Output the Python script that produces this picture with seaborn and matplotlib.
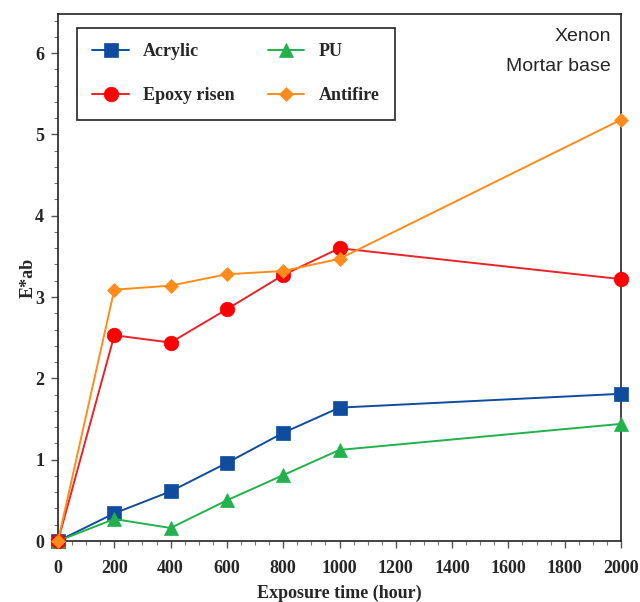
import numpy as np
import pandas as pd
import matplotlib
matplotlib.use("Agg")
import matplotlib.pyplot as plt
import seaborn as sns
from matplotlib.ticker import MultipleLocator

hours = [0, 200, 400, 600, 800, 1000, 2000]
acrylic = [0.0, 0.34, 0.61, 0.96, 1.33, 1.64, 1.81]
pu = [0.0, 0.27, 0.16, 0.50, 0.81, 1.12, 1.44]
epoxy = [0.0, 2.53, 2.44, 2.85, 3.27, 3.60, 3.22]
antifire = [0.0, 3.09, 3.14, 3.28, 3.32, 3.47, 5.18]
series_names = ["Acrylic", "Epoxy risen", "PU", "Antifire"]
x_ticks = [0, 200, 400, 600, 800, 1000, 1200, 1400, 1600, 1800, 2000]
y_ticks = [0, 1, 2, 3, 4, 5, 6]

sns.set_style("ticks")
plt.rcParams['font.family'] = ['Liberation Serif', 'DejaVu Serif']

fig = plt.figure(figsize=(6.4, 6.02), dpi=100)
ax = fig.add_axes([58/640, 61/602, (621-58)/640, (541-14)/602])

styles = {
    "Acrylic": dict(data=acrylic, color="#0F4C9E", marker="s", ms=10),
    "Epoxy risen": dict(data=epoxy, color="#FF0000", marker="o", ms=10.5, lc="#E8232A"),
    "PU": dict(data=pu, color="#22B14C", marker="^", ms=10),
    "Antifire": dict(data=antifire, color="#FF8C1A", marker="D", ms=7),
}
order = ["Acrylic", "PU", "Epoxy risen", "Antifire"]
for name in order:
    s = styles[name]
    df = pd.DataFrame({"x": hours, "y": s["data"]})
    sns.lineplot(data=df, x="x", y="y", ax=ax, color=s.get("lc", s["color"]),
                 marker=s["marker"], markersize=s["ms"], markerfacecolor=s["color"],
                 markeredgecolor=s["color"], markeredgewidth=0.5, linewidth=1.4,
                 label=name, clip_on=False, zorder=3)

ax.set_xlim(0, 2000)
ax.set_ylim(0, 6.48)
ax.set_xticks(x_ticks)
ax.set_yticks(y_ticks)
ax.xaxis.set_minor_locator(MultipleLocator(50))
ax.yaxis.set_minor_locator(MultipleLocator(0.2))
ax.tick_params(axis='both', which='major', direction='out', length=5, width=1,
               labelsize=13, top=False, right=False, color='#555555')
ax.tick_params(axis='x', which='major', pad=9)
ax.tick_params(axis='y', which='major', pad=5)
ax.tick_params(axis='both', which='minor', direction='out', length=3, width=0.8,
               top=False, right=False, color='#777777')
for lab in ax.get_xticklabels() + ax.get_yticklabels():
    lab.set_fontweight('bold')
for sp in ax.spines.values():
    sp.set_linewidth(1.2)
    sp.set_color('#222222')

ax.set_xlabel("Exposure time (hour)", fontsize=13, fontweight='bold', labelpad=5)
ax.set_ylabel("E*ab", fontsize=13, fontweight='bold', labelpad=-1)

h, l = ax.get_legend_handles_labels()
hm = dict(zip(l, h))
leg_order = ["Acrylic", "Epoxy risen", "PU", "Antifire"]
leg = ax.legend([hm[n] for n in leg_order], leg_order, ncol=2, loc='upper left',
                bbox_to_anchor=(0.034, 0.9734), borderaxespad=0, frameon=True,
                fancybox=False, edgecolor='#222222', framealpha=1,
                prop={'weight': 'bold', 'size': 13}, handlelength=2.0,
                columnspacing=1.85, labelspacing=1.5, borderpad=0.85, handletextpad=0.8)
leg.get_frame().set_linewidth(1.2)

ax.text(0.982, 0.958, "Xenon", transform=ax.transAxes, ha='right', va='center',
        fontsize=14, family=['Liberation Sans', 'DejaVu Sans'])
ax.text(0.982, 0.900, "Mortar base", transform=ax.transAxes, ha='right', va='center',
        fontsize=14, family=['Liberation Sans', 'DejaVu Sans'])

fig.savefig("out.png", dpi=100, facecolor='white')
